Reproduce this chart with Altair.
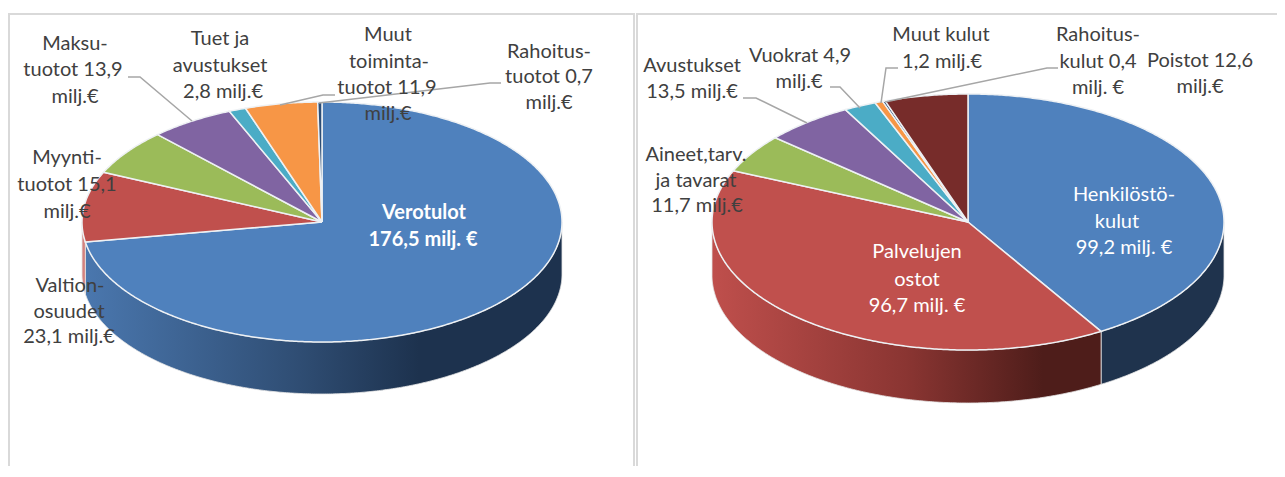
import numpy as np
import pandas as pd
import altair as alt

# values (milj. EUR), clockwise from 12 o'clock
income_values = [176.5, 23.1, 15.1, 13.9, 2.8, 11.9, 0.7]
income_names = ["Verotulot", "Valtionosuudet", "Myyntituotot", "Maksutuotot", "Tuet ja avustukset", "Muut toimintatuotot", "Rahoitustuotot"]
income_colors = ["#4f81bd", "#c0504d", "#9bbb59", "#8064a2", "#4bacc6", "#f79646", "#2c4d75"]
cost_values = [99.2, 96.7, 11.7, 13.5, 4.9, 1.2, 0.4, 12.6]
cost_names = ["Henkilöstökulut", "Palvelujen ostot", "Aineet", "Avustukset", "Vuokrat", "Muut kulut", "Rahoituskulut", "Poistot"]
cost_colors = ["#4f81bd", "#c0504d", "#9bbb59", "#8064a2", "#4bacc6", "#f79646", "#2c4d75", "#772c2a"]

# (text, x, y)
dark_labels = [
    ("Maksu-", 75, 44), ("tuotot 13,9", 73, 70), ("milj.€", 75, 97),
    ("Tuet ja", 220, 39), ("avustukset", 220, 66), ("2,8 milj.€", 223, 92),
    ("Myynti-", 67, 158), ("tuotot  15,1", 67, 185), ("milj.€", 67, 212),
    ("Muut", 388, 35), ("toiminta-", 389, 62), ("tuotot 11,9", 387, 88), ("milj.€", 388, 114),
    ("Rahoitus-", 549, 52), ("tuotot 0,7", 549, 77), ("milj.€", 549, 103),
    ("Valtion-", 70, 286), ("osuudet", 69, 312), ("23,1 milj.€", 69, 337),
    ("Muut kulut", 941, 35), ("1,2 milj.€", 942, 62),
    ("Rahoitus-", 1098, 35), ("kulut 0,4", 1098, 62), ("milj. €", 1098, 88),
    ("Poistot 12,6", 1200, 61), ("milj.€", 1200, 87),
    ("Vuokrat 4,9", 800, 56), ("milj.€", 799, 82),
    ("Avustukset", 692, 66), ("13,5 milj.€", 692, 92),
    ("Aineet,tarv.", 696, 155), ("ja tavarat", 696, 181), ("11,7 milj.€", 697, 206),
]
white_labels = [
    ("Henkilöstö-", 1124, 195), ("kulut", 1117, 222), ("99,2 milj. €", 1124, 248),
    ("Palvelujen", 917, 252), ("ostot", 917, 280), ("96,7 milj. €", 917, 306),
]
bold_labels = [("Verotulot", 424, 213), ("176,5 milj. €", 423, 240)]

leaders = [
    [(128, 77), (140, 77), (192, 121)],
    [(280, 105), (323, 95), (335, 95)],
    [(319, 103), (490, 83), (501, 83)],
    [(881, 103), (886, 68), (898, 68)],
    [(885, 102), (1047, 68), (1058, 68)],
    [(830, 87), (840, 87), (860, 108)],
    [(743, 98), (756, 98), (807, 123)],
]
frame_lines = [
    [(9, 466), (9, 14), (634, 14), (634, 466)],
    [(637, 466), (637, 14), (1277, 14)],
]

LEFT = dict(cx=322, cy=222, rx=240, ry=120, depth=52)
RIGHT = dict(cx=968, cy=222, rx=256, ry=128, depth=53)

W, H = 1269, 458
X = alt.X("x:Q", scale=alt.Scale(domain=[8, 8 + W]), axis=None)
Y = alt.Y("y:Q", scale=alt.Scale(domain=[8 + H, 8]), axis=None)
O = alt.Order("i:Q")


def rim(p, a0, a1, drop=0.0):
    n = max(2, int(abs(a1 - a0)) * 2)
    t = np.radians(np.linspace(a0, a1, n))
    return list(zip(p["cx"] + p["rx"] * np.sin(t), p["cy"] - p["ry"] * np.cos(t) + drop))


def shape(points, **mark):
    df = pd.DataFrame(points, columns=["x", "y"])
    df["i"] = range(len(df))
    return alt.Chart(df).mark_line(**mark).encode(x=X, y=Y, order=O)


def grad(stops):
    return alt.Gradient(gradient="linear", x1=0, x2=1, y1=0, y2=0,
                        stops=[alt.GradientStop(offset=o, color=c) for o, c in stops])


def wedges(values, colors, p):
    total = sum(values)
    edges = np.concatenate([[0], np.cumsum(values) / total * 360])
    out = []
    for a0, a1, c in zip(edges[:-1], edges[1:], colors):
        pts = [(p["cx"], p["cy"])] + rim(p, a0, a1) + [(p["cx"], p["cy"])]
        out.append(shape(pts, fill=c, stroke="#eef1f4", strokeWidth=1.5))
    return out, edges


def wall(p, a0, a1, fill):
    pts = rim(p, a0, a1) + rim(p, a1, a0, p["depth"])
    pts.append(pts[0])
    return shape(pts, fill=fill, stroke="#e4e4e4", strokeWidth=0.8)


def text_layer(rows, color, weight="normal"):
    df = pd.DataFrame(rows, columns=["t", "x", "y"])
    return alt.Chart(df).mark_text(font="Lato", fontSize=20, color=color, fontWeight=weight,
                                   align="center", baseline="middle").encode(x=X, y=Y, text="t:N")


left_tops, le = wedges(income_values, income_colors, LEFT)
right_tops, re_ = wedges(cost_values, cost_colors, RIGHT)

layers = [shape(pts, stroke="#d9d9d9", strokeWidth=2) for pts in frame_lines]
layers += [
    wall(LEFT, 90, le[1], grad([(0, "#4a77ae"), (0.45, "#2f4d73"), (0.7, "#1d324e"), (1, "#1d324e")])),
    wall(LEFT, le[1], 270, "#d4827f"),
    wall(RIGHT, 90, re_[1], "#1f334d"),
    wall(RIGHT, re_[1], 270, grad([(0, "#bf4f4c"), (0.5, "#8a3532"), (0.85, "#4e1d1a"), (1, "#4e1d1a")])),
]
layers += left_tops + right_tops
layers += [shape(pts, stroke="#a6a6a6", strokeWidth=1.5) for pts in leaders]
layers += [text_layer(dark_labels, "#404040"), text_layer(white_labels, "#ffffff"),
           text_layer(bold_labels, "#ffffff", "bold")]

chart = alt.layer(*layers).properties(width=W, height=H, padding=0, autosize=alt.AutoSizeParams(type="none"),
                                      background="#ffffff").configure_view(stroke=None)
chart.save("out.html", embed_options={"renderer": "svg", "actions": False})
